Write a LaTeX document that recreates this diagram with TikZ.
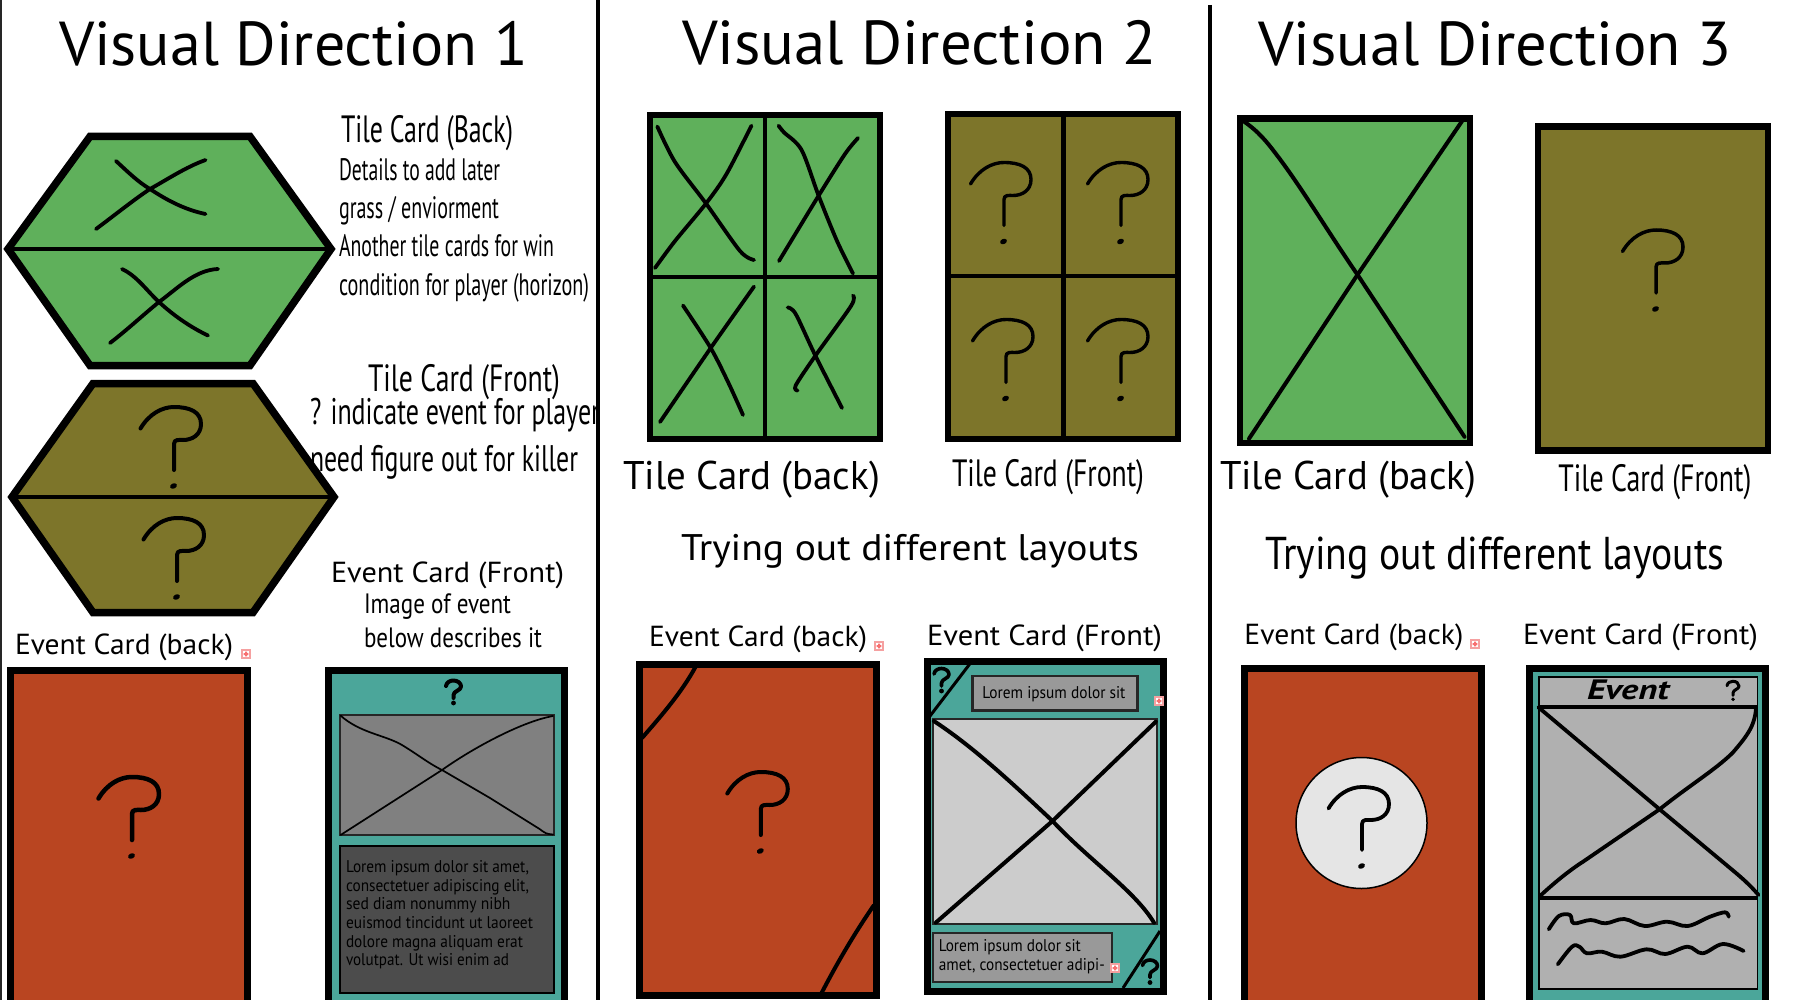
\documentclass[tikz,border=0pt]{standalone}
\usepackage{fontspec}
\usepackage{graphicx}
\setmainfont{PT Sans}
\definecolor{grn}{RGB}{95,176,91}
\definecolor{olv}{RGB}{125,117,42}
\definecolor{rd}{RGB}{185,69,33}
\definecolor{tl}{RGB}{75,166,154}
\definecolor{pnk}{RGB}{245,160,160}
\newcounter{lblc}
\newcommand\wt[3]{\resizebox{#1pt}{\height}{\fontsize{#2pt}{#2pt}\selectfont #3}}
% x, baseline y, width, size, text
\newcommand\lbl[5]{\stepcounter{lblc}\node[txt] (t\thelblc) at (#1,#2+1) {\wt{#3}{#4}{#5}};}
\newcommand\qm[4]{\begin{scope}[shift={(#1,#2)},scale=#3]
\draw[line width=#4pt,line cap=round,line join=round] (-33.5,-12.5) .. controls (-25,-27) and (-12,-34) .. (0,-34) .. controls (16,-34) and (27,-29) .. (27,-17) .. controls (27,-6) and (18,-1) .. (9,-1) .. controls (5,-1) and (0,-2) .. (0,3) -- (0,29);
\fill[rotate around={25:(-0.5,45)}] (-0.5,45) ellipse (3.6 and 2.6);
\end{scope}}
\newcommand\bq[4]{\begin{scope}[shift={(#1,#2)},scale=#3]
\draw[line width=#4pt,line cap=round,line join=round] (-7.5,-6) .. controls (-7,-10) and (-3,-11.5) .. (0,-11.5) .. controls (4,-11.5) and (7.5,-9) .. (7.5,-5.5) .. controls (7.5,-1.5) and (0,-1) .. (0,3) -- (0,6);
\fill (0,11) circle (2.4);
\end{scope}}
\newcommand\ovf[2]{\begin{scope}[shift={(#1,#2)}]
\fill[pnk] (-5,-5) rectangle (5,5);
\fill[white] (-3.4,-3.4) rectangle (3.4,3.4);
\fill[pnk!70!red] (-2.4,-1) rectangle (2.4,1) (-1,-2.4) rectangle (1,2.4);
\end{scope}}
\tikzset{
 txt/.style={anchor=base west,inner sep=0pt,outer sep=0pt,text=black},
 card/.style={draw=black,line width=7pt,fill=#1},
 hexa/.style={draw=black,line width=7.5pt,fill=#1},
 scr/.style={line width=#1pt,line cap=round,line join=round},
 scr/.default=3.8,
 box/.style={draw=black!85,line width=#1pt},
 divider/.style={draw=black,line width=4pt}
}
\begin{document}
\begin{tikzpicture}[x=1pt,y=-1pt]
\useasboundingbox (0,0) rectangle (1795,1000);
\clip (0,0) rectangle (1795,1000);
\fill[white] (0,0) rectangle (1795,1000);

% ---------- Panel 1
\filldraw[hexa=grn] (90,136.5) -- (250,136.5) -- (331,249) -- (250,365.5) -- (90,365.5) -- (8,249) -- cycle;
\draw[line width=4pt] (6,249) -- (333,249);
\draw[scr] (116,161) .. controls (128,172) and (138,182) .. (150,189) .. controls (168,201) and (186,210) .. (205.5,214);
\draw[scr] (96,229) .. controls (115,215) and (132,201) .. (150,189) .. controls (168,179) and (186,167) .. (205.5,160);
\draw[scr] (122,269) .. controls (137,276) and (147,291) .. (159,302) .. controls (173,315) and (190,327) .. (208,335.5);
\draw[scr] (110,343) .. controls (127,330) and (143,315) .. (159,302) .. controls (178,288) and (195,270) .. (218,269);

\filldraw[hexa=olv] (93,383.5) -- (253,383.5) -- (334,497) -- (253,612.5) -- (93,612.5) -- (12,497) -- cycle;
\draw[line width=4pt] (9,497) -- (337,497);
\qm{174}{441}{1}{4}
\qm{177}{552}{1}{4}

\lbl{341}{142}{172}{38}{Tile Card (Back)}
\lbl{339}{180}{161}{31}{Details to add later}
\lbl{339}{218}{160}{31}{grass / enviorment}
\lbl{339}{256}{215}{31}{Another tile cards for win}
\lbl{339}{294}{250}{31}{condition for player (horizon)}
\lbl{368}{390.5}{192}{38}{Tile Card (Front)}
\lbl{310}{423}{290}{37}{? indicate event for player}
\lbl{310}{470}{268}{37}{need figure out for killer}
\lbl{331}{581}{233}{29}{Event Card (Front)}
\lbl{364}{612}{147}{28}{Image of event}
\lbl{364}{646}{178}{28}{below describes it}
\lbl{15}{653}{218}{29}{Event Card (back)}
\ovf{246}{654}

\filldraw[card=rd] (10.5,670) rectangle (247.5,1003);
\qm{132}{811}{1}{4.5}

\filldraw[card=tl] (328.5,670) rectangle (564.5,1003);
\bq{453.5}{692}{1}{4}
\filldraw[box=2,fill=black!50] (340,715) rectangle (554,835);
\draw[scr=1.7] (340.6,715.6) .. controls (360,733) and (385,735) .. (402,745) .. controls (420,756) and (428,763) .. (442,770) -- (490,798) -- (539.6,829) .. controls (545,833) and (546,834) .. (553,834.5);
\draw[scr=1.7] (340.6,835) -- (442,770) .. controls (470,750) and (520,722) .. (553,716);
\filldraw[box=2.5,fill=black!70,draw=black] (340,846) rectangle (554,993);
\lbl{346}{871}{183}{17}{Lorem ipsum dolor sit amet,}
\lbl{346}{890}{183}{17}{consectetuer adipiscing elit,}
\lbl{346}{908.5}{164.5}{17}{sed diam nonummy nibh}
\lbl{346}{927}{187}{17}{euismod tincidunt ut laoreet}
\lbl{346}{946}{177}{17}{dolore magna aliquam erat}
\lbl{346}{964.5}{163}{17}{volutpat. Ut wisi enim ad}

\lbl{59}{65}{469}{62}{Visual Direction 1}

% ---------- Panel 2
\lbl{682}{64}{475}{62}{Visual Direction 2}
\filldraw[card=grn,line width=6pt] (650,115) rectangle (880,439);
\draw[line width=4.5pt] (765,115) -- (765,439);
\draw[line width=4pt] (650,276.7) -- (880,276.7);
\draw[scr] plot[smooth] coordinates {(657.3,126.5) (675,162) (706,203.5) (740,251) (754,260)};
\draw[scr] plot[smooth] coordinates {(655,268) (675,241) (706,203.5) (726.5,174) (751.4,125.7)};
\draw[scr] plot[smooth] coordinates {(778.6,125.7) (784,132.4) (801.6,150) (818.6,195.7) (837,241) (853,273.5)};
\draw[scr] plot[smooth] coordinates {(779,261) (818.6,195.7) (845,154) (858,138)};
\draw[scr] plot[smooth] coordinates {(683,305.5) (710.7,348) (728.5,383) (743,415)};
\draw[scr] plot[smooth] coordinates {(660,422) (710.7,348) (754,286.6)};
\draw[scr] plot[smooth] coordinates {(787.7,307.5) (795.7,314) (815.4,355.7) (842,408)};
\draw[scr] plot[smooth] coordinates {(797.6,390.5) (795.7,385.4) (815.4,355.7) (851,306) (853,295.6)};

\filldraw[card=olv,line width=6pt] (948,114) rectangle (1178,439);
\draw[line width=4.5pt] (1063.6,114) -- (1063.6,439);
\draw[line width=3.5pt] (948,276) -- (1178,276);
\qm{1004}{196.5}{1}{3.4}
\qm{1121}{196.5}{1}{3.4}
\qm{1006}{353.5}{1}{3.4}
\qm{1121}{353.5}{1}{3.4}

\lbl{623}{488}{257}{40}{Tile Card (back)}
\lbl{952}{485.5}{192}{38}{Tile Card (Front)}
\lbl{681}{559}{458}{37}{Trying out different layouts}
\lbl{649}{645}{218}{29}{Event Card (back)}
\lbl{927}{644}{235}{29}{Event Card (Front)}
\ovf{879}{646}

\begin{scope}
\fill[rd] (639.5,664.5) rectangle (876,995);
\draw[line width=4pt] (696,666) .. controls (682,692) and (662,715) .. (642,738);
\draw[line width=4pt] (874,905) .. controls (852,937) and (835,967) .. (820,996);
\draw[line width=7pt] (639.5,664.5) rectangle (876,995);
\end{scope}
\qm{760.8}{806}{1}{4}

\filldraw[card=tl] (927,661) rectangle (1163,991);
\draw[line width=3pt] (970.5,663) -- (930,716);
\draw[line width=3pt] (1160,931) -- (1123,988);
\bq{941.5}{680}{1}{3.6}
\bq{1150}{971.5}{1}{3.6}
\filldraw[box=2.5,fill=black!40] (972.5,676) rectangle (1137.4,710.7);
\lbl{982.4}{697}{143}{17}{Lorem ipsum dolor sit}
\filldraw[box=2,fill=black!20] (932.7,719) rectangle (1157,924);
\draw[scr=4] (933.8,721) .. controls (972,746) and (1010,781) .. (1052.5,821) .. controls (1090,861) and (1135,891) .. (1154,922.7);
\draw[scr=4] (935.7,922.7) -- (1052.5,821) -- (1155.8,721.7);
\filldraw[box=2.5,fill=black!40] (933,933) rectangle (1112,982);
\lbl{938.8}{950}{142}{17}{Lorem ipsum dolor sit}
\lbl{938.8}{969}{166}{17}{amet, consectetuer adipi-}
\ovf{1159}{701}
\ovf{1115}{968}

% ---------- Panel 3
\lbl{1258}{64.4}{474}{62}{Visual Direction 3}
\filldraw[card=grn,line width=6.5pt] (1240,118.5) rectangle (1470,443);
\draw[scr=4] (1243.6,121.3) .. controls (1258,131) and (1267,142) .. (1276,154) .. controls (1300,185) and (1330,235) .. (1357.5,274.7) -- (1464.5,436.8);
\draw[scr=4] (1249,438.7) -- (1357.5,274.7) -- (1461.9,121.3);
\filldraw[card=olv,line width=6.5pt] (1538,126.5) rectangle (1768,450.5);
\qm{1656}{264}{1}{3.5}
\lbl{1220}{488}{256}{40}{Tile Card (back)}
\lbl{1558.4}{490}{193}{38}{Tile Card (Front)}
\lbl{1265.4}{568.5}{459}{46}{Trying out different layouts}
\lbl{1244.4}{643}{219}{29}{Event Card (back)}
\lbl{1523}{643}{235}{29}{Event Card (Front)}
\ovf{1475}{644}

\filldraw[card=rd] (1244.5,668.5) rectangle (1481,1003);
\filldraw[draw=black,line width=1.5pt,fill=black!10] (1361.5,823) ellipse (65.5 and 65.5);
\qm{1362}{821}{1}{3.8}

\filldraw[card=tl] (1529.5,668.5) rectangle (1765.5,1003);
\filldraw[box=1.8,fill=black!31,draw=black] (1538.7,677) rectangle (1757.4,989);
\draw[line width=4.2pt] (1537.6,707) -- (1756.6,707);
\draw[line width=4.2pt] (1538,898) -- (1758,898);
\draw[scr=3.8] (1538.4,707.3) -- (1659.6,809.3) -- (1732.4,870) .. controls (1742,878) and (1750,885) .. (1758.5,895);
\draw[scr=3.8] (1540,896) .. controls (1555,882) and (1570,870) .. (1583,861.7) -- (1659.6,809.3) .. controls (1690,785) and (1715,770) .. (1732.4,753) .. controls (1748,735) and (1755,725) .. (1756,708);
\lbl{1587}{698}{82}{28}{\bfseries\itshape Event}
\bq{1733}{690.5}{.8}{3}
\draw[scr=3.8] plot[smooth,tension=.6] coordinates {(1548.8,929.3) (1558.9,916) (1570,915) (1573.8,923.3) (1590.6,920) (1605.5,923.3) (1624.2,919) (1644.7,926) (1667,921.7) (1687.6,926) (1710,916.7) (1725,912.3) (1728.7,916.7)};
\draw[scr=3.8] plot[smooth,tension=.6] coordinates {(1557.8,964.3) (1572,946.7) (1579.4,946.7) (1586.9,953.3) (1601.8,951.7) (1620.4,956.7) (1646.6,949.3) (1665.2,954) (1687.6,946.7) (1702.5,953.3) (1723,944) (1743.6,951)};

% ---------- dividers
\draw[line width=2.5pt,draw=black!85] (1.2,0) -- (1.2,1000);
\draw[divider] (597.5,0) -- (597.5,1000);
\draw[divider] (1210,5) -- (1210,1000);
\end{tikzpicture}
\end{document}
